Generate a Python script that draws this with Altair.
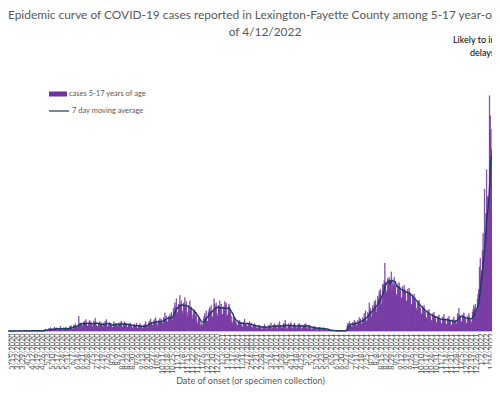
import altair as alt
import pandas as pd
import datetime as dt

start_date = dt.date(2020, 3, 8)

# daily cases among 5-17 year-olds (one row per week)
cases = [
    0, 0, 0, 0, 0, 0, 0,
    0, 0, 1, 0, 0, 0, 0,
    0, 0, 0, 1, 0, 0, 0,
    0, 1, 0, 0, 1, 0, 0,
    0, 0, 1, 0, 0, 1, 0,
    0, 1, 0, 1, 0, 0, 0,
    0, 0, 1, 0, 1, 0, 0,
    0, 1, 2, 3, 1, 2, 1,
    1, 4, 2, 5, 3, 2, 1,
    2, 3, 6, 4, 2, 5, 1,
    2, 4, 3, 7, 3, 4, 2,
    1, 5, 3, 4, 6, 2, 3,
    2, 4, 7, 5, 8, 6, 3,
    4, 9, 7, 11, 8, 6, 5,
    7, 22, 10, 12, 9, 11, 8,
    6, 13, 15, 11, 17, 10, 7,
    8, 12, 16, 10, 14, 9, 6,
    9, 15, 11, 19, 12, 8, 7,
    6, 11, 14, 9, 13, 10, 8,
    5, 12, 10, 15, 11, 17, 6,
    7, 9, 13, 11, 10, 8, 5,
    6, 14, 10, 12, 9, 11, 7,
    8, 12, 9, 13, 10, 15, 6,
    7, 11, 14, 10, 12, 9, 5,
    6, 10, 12, 9, 11, 8, 4,
    5, 8, 10, 7, 9, 12, 4,
    4, 9, 7, 11, 8, 6, 3,
    5, 8, 10, 7, 14, 9, 4,
    7, 12, 15, 11, 18, 13, 8,
    9, 14, 17, 12, 20, 15, 7,
    10, 16, 13, 19, 15, 17, 11,
    12, 20, 17, 27, 18, 22, 13,
    14, 22, 19, 25, 21, 28, 16,
    20, 34, 30, 42, 36, 48, 25,
    28, 40, 36, 53, 38, 45, 30,
    26, 42, 35, 50, 37, 44, 28,
    22, 38, 30, 45, 33, 36, 24,
    18, 32, 26, 30, 22, 28, 14,
    10, 20, 18, 16, 8, 12, 10,
    8, 18, 22, 26, 20, 30, 14,
    15, 28, 32, 35, 30, 38, 22,
    20, 32, 48, 40, 36, 42, 26,
    22, 38, 33, 45, 36, 40, 24,
    25, 36, 30, 44, 38, 42, 22,
    24, 35, 40, 32, 28, 22, 14,
    12, 22, 18, 20, 15, 13, 9,
    8, 14, 12, 16, 11, 13, 7,
    6, 13, 11, 18, 10, 12, 7,
    7, 12, 10, 14, 9, 11, 6,
    5, 9, 8, 11, 7, 8, 4,
    4, 8, 6, 9, 5, 7, 3,
    3, 7, 6, 10, 5, 6, 2,
    4, 8, 5, 9, 6, 12, 3,
    4, 9, 7, 11, 6, 8, 5,
    3, 10, 6, 14, 8, 7, 4,
    5, 9, 12, 7, 16, 8, 3,
    4, 8, 11, 6, 10, 13, 5,
    3, 9, 7, 12, 8, 6, 4,
    5, 10, 8, 11, 7, 9, 3,
    4, 9, 7, 10, 8, 11, 5,
    3, 8, 6, 9, 5, 7, 2,
    3, 6, 4, 7, 5, 4, 2,
    2, 5, 4, 6, 3, 5, 1,
    2, 4, 5, 3, 4, 3, 1,
    1, 2, 1, 2, 1, 0, 1,
    0, 1, 1, 0, 1, 0, 0,
    0, 1, 0, 1, 0, 0, 0,
    0, 1, 0, 0, 1, 0, 3,
    8, 12, 10, 14, 9, 11, 7,
    6, 13, 11, 16, 10, 14, 8,
    9, 16, 13, 20, 15, 18, 10,
    12, 20, 17, 26, 19, 30, 14,
    16, 28, 24, 42, 30, 34, 20,
    26, 38, 34, 44, 40, 46, 28,
    34, 52, 48, 60, 55, 62, 40,
    50, 70, 68, 75, 101, 72, 58,
    60, 78, 74, 80, 70, 76, 88,
    62, 72, 68, 80, 70, 66, 55,
    52, 70, 64, 72, 66, 60, 48,
    50, 66, 60, 68, 62, 58, 44,
    45, 62, 56, 64, 58, 54, 40,
    38, 52, 48, 55, 50, 44, 34,
    30, 44, 40, 46, 38, 34, 26,
    24, 36, 32, 38, 30, 28, 20,
    18, 30, 26, 32, 25, 22, 16,
    15, 26, 22, 28, 21, 20, 13,
    12, 22, 18, 24, 19, 17, 11,
    11, 21, 17, 25, 18, 16, 10,
    10, 19, 16, 22, 17, 14, 9,
    9, 17, 14, 21, 15, 16, 10,
    12, 26, 22, 34, 24, 20, 14,
    13, 24, 20, 27, 22, 18, 11,
    12, 22, 19, 26, 21, 17, 10,
    14, 28, 32, 38, 34, 40, 24,
    30, 48, 55, 62, 95, 108, 80,
    90, 120, 145, 110, 211, 150, 175,
    240, 200, 180, 200, 350, 320, 300,
    270,
]

dates = [start_date + dt.timedelta(days=i) for i in range(len(cases))]
date_labels = [f"{d.month}/{d.day}/{d.year}" for d in dates]
week_labels = date_labels[::7]

title_lines = [
    "Epidemic curve of COVID-19 cases reported in Lexington-Fayette County among 5-17 year-olds as",
    "of 4/12/2022",
]
note_lines = ["Likely to increase due to reporting", "delays"]
bar_name = "cases 5-17 years of age"
line_name = "7 day moving average"

PURPLE = "#7030A0"
NAVY = "#1F3864"
GREY = "#595959"
FONT = "Lato"
TOP = 54

df = pd.DataFrame({"i": list(range(len(cases))), "date": date_labels, "cases": cases})

xenc = alt.X(
    "date:O",
    sort=None,
    scale=alt.Scale(domain=date_labels, paddingInner=0, paddingOuter=0),
    axis=alt.Axis(
        values=week_labels,
        labelAngle=-90,
        labelOverlap=False,
        labelFontSize=7.3,
        labelColor=GREY,
        labelFont=FONT,
        labelPadding=2,
        ticks=False,
        domainColor="#D9D9D9",
        domainWidth=1.5,
        title="Date of onset (or specimen collection)",
        titleFont=FONT,
        titleFontSize=9,
        titleFontWeight="normal",
        titleColor=GREY,
        titlePadding=3,
    ),
)

base = alt.Chart(df)

bars = base.transform_calculate(s=f"'{bar_name}'").mark_bar(
    stroke=PURPLE, strokeWidth=0.35
).encode(
    x=xenc,
    y=alt.Y("cases:Q", scale=alt.Scale(domain=[0, 400]), axis=None),
    fill=alt.Fill(
        "s:N",
        scale=alt.Scale(range=[PURPLE]),
        legend=alt.Legend(
            title=None,
            orient="none",
            legendX=41,
            legendY=23,
            symbolType="M-1,-0.28H1V0.28H-1Z",
            symbolSize=324,
            symbolStrokeWidth=0,
            labelFont=FONT,
            labelFontSize=7.5,
            labelColor=GREY,
            labelOffset=2,
            padding=0,
        ),
    ),
)

line = base.transform_window(
    ma="mean(cases)", frame=[-6, 0], sort=[alt.SortField("i")]
).transform_calculate(s2=f"'{line_name}'").mark_line(strokeWidth=1.4).encode(
    x=alt.X("date:O", sort=None),
    y=alt.Y("ma:Q"),
    order=alt.Order("i:Q"),
    stroke=alt.Stroke(
        "s2:N",
        scale=alt.Scale(range=[NAVY]),
        legend=alt.Legend(
            title=None,
            orient="none",
            legendX=40,
            legendY=38,
            symbolType="stroke",
            symbolSize=400,
            symbolStrokeWidth=1.2,
            labelFont=FONT,
            labelFontSize=7.5,
            labelColor=GREY,
            labelOffset=2,
            padding=0,
        ),
    ),
)

tdf = pd.DataFrame({"t1": [title_lines[0]], "t2": [title_lines[1]],
                    "n1": [note_lines[0]], "n2": [note_lines[1]]})
tbase = alt.Chart(tdf)
title1 = tbase.mark_text(align="left", baseline="middle", font=FONT, fontSize=11.9, color=GREY).encode(
    x=alt.value(0), y=alt.value(7 - TOP), text="t1:N")
title2 = tbase.mark_text(align="center", baseline="middle", font=FONT, fontSize=11.9, color=GREY).encode(
    x=alt.value(257), y=alt.value(24 - TOP), text="t2:N")
note1 = tbase.mark_text(align="left", baseline="middle", font=FONT, fontSize=9, color="black").encode(
    x=alt.value(445), y=alt.value(32 - TOP), text="n1:N")
note2 = tbase.mark_text(align="left", baseline="middle", font=FONT, fontSize=9, color="black").encode(
    x=alt.value(462), y=alt.value(45 - TOP), text="n2:N")

chart = alt.layer(bars, line, title1, title2, note1, note2).resolve_legend(
    fill="independent", stroke="independent"
).properties(
    width=484,
    height=269,
    padding={"left": 0, "top": TOP, "right": 0, "bottom": 54},
    autosize=alt.AutoSizeParams(type="none"),
    background="white",
).configure_view(stroke=None)

chart.save("out.html", embed_options={"renderer": "svg", "actions": False})
